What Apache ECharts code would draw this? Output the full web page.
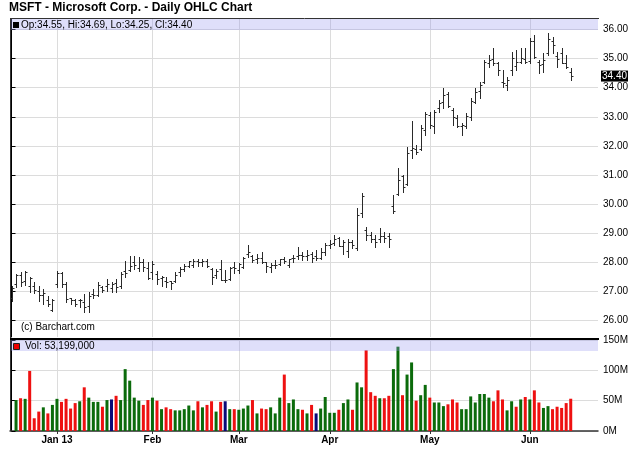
<!DOCTYPE html>
<html><head><meta charset="utf-8">
<script src="https://cdn.jsdelivr.net/npm/echarts@6/dist/echarts.min.js"></script>
<style>html,body{margin:0;padding:0;background:#fff}#c{width:640px;height:468px}</style>
</head><body><div id="c"></div>
<script>
const dates = [
'2012-12-17','2012-12-18','2012-12-19','2012-12-20','2012-12-21','2012-12-24','2012-12-26','2012-12-27','2012-12-28','2012-12-31',
'2013-01-02','2013-01-03','2013-01-04','2013-01-07','2013-01-08','2013-01-09','2013-01-10','2013-01-11','2013-01-14','2013-01-15',
'2013-01-16','2013-01-17','2013-01-18','2013-01-22','2013-01-23','2013-01-24','2013-01-25','2013-01-28','2013-01-29','2013-01-30',
'2013-01-31','2013-02-01','2013-02-04','2013-02-05','2013-02-06','2013-02-07','2013-02-08','2013-02-11','2013-02-12','2013-02-13',
'2013-02-14','2013-02-15','2013-02-19','2013-02-20','2013-02-21','2013-02-22','2013-02-25','2013-02-26','2013-02-27','2013-02-28',
'2013-03-01','2013-03-04','2013-03-05','2013-03-06','2013-03-07','2013-03-08','2013-03-11','2013-03-12','2013-03-13','2013-03-14',
'2013-03-15','2013-03-18','2013-03-19','2013-03-20','2013-03-21','2013-03-22','2013-03-25','2013-03-26','2013-03-27','2013-03-28',
'2013-04-01','2013-04-02','2013-04-03','2013-04-04','2013-04-05','2013-04-08','2013-04-09','2013-04-10','2013-04-11','2013-04-12',
'2013-04-15','2013-04-16','2013-04-17','2013-04-18','2013-04-19','2013-04-22','2013-04-23','2013-04-24','2013-04-25','2013-04-26',
'2013-04-29','2013-04-30','2013-05-01','2013-05-02','2013-05-03','2013-05-06','2013-05-07','2013-05-08','2013-05-09','2013-05-10',
'2013-05-13','2013-05-14','2013-05-15','2013-05-16','2013-05-17','2013-05-20','2013-05-21','2013-05-22','2013-05-23','2013-05-24',
'2013-05-28','2013-05-29','2013-05-30','2013-05-31','2013-06-03','2013-06-04','2013-06-05','2013-06-06','2013-06-07','2013-06-10',
'2013-06-11','2013-06-12','2013-06-13','2013-06-14'];

const opens = [
26.79,27.25,27.55,27.36,27.20,27.20,27.03,26.89,26.71,26.37,
27.25,27.63,27.27,26.77,26.72,26.72,26.65,26.49,26.90,26.88,
27.15,27.19,27.10,27.30,27.20,27.70,27.75,28.01,27.82,28.01,
27.79,27.67,27.60,27.46,27.35,27.35,27.35,27.65,27.78,27.88,
27.90,28.04,28.00,28.05,27.76,27.55,27.78,27.40,27.42,27.85,
27.72,27.85,28.29,28.20,28.10,28.14,28.00,27.85,27.90,27.95,
28.12,27.90,28.15,28.20,28.25,28.20,28.30,28.20,28.15,28.35,
28.60,28.65,28.85,28.55,28.40,28.70,28.50,29.70,29.10,28.95,
28.80,28.80,28.90,28.90,29.95,30.35,30.95,30.70,31.85,31.90,
31.90,32.55,33.05,32.70,33.30,33.50,33.80,33.25,32.95,32.70,
32.70,33.00,33.50,33.90,34.20,34.85,35.00,34.85,34.20,34.10,
34.60,34.75,34.90,35.00,34.92,35.62,34.90,34.80,35.20,35.60,
35.10,35.20,34.85,34.55];

const highs = [
27.20,27.60,27.66,27.69,27.48,27.31,27.20,27.08,26.85,26.74,
27.71,27.66,27.31,26.79,26.74,26.74,26.91,26.97,27.08,27.31,
27.20,27.43,27.31,27.43,27.66,28.06,28.23,28.23,28.17,28.11,
28.00,28.06,27.71,27.54,27.48,27.37,27.66,27.83,27.94,28.06,
28.11,28.11,28.10,28.13,27.79,27.76,28.08,27.74,27.85,28.02,
27.98,28.18,28.59,28.25,28.30,28.36,28.02,27.97,28.08,28.13,
28.19,28.13,28.25,28.53,28.36,28.42,28.36,28.42,28.48,28.65,
28.76,28.94,28.88,28.75,28.80,28.77,29.86,30.37,29.22,29.05,
28.94,29.17,29.05,29.00,30.31,31.23,31.00,31.97,32.84,32.03,
32.72,33.18,33.18,33.23,33.58,33.98,33.86,33.29,33.06,32.78,
33.12,33.64,33.98,34.21,34.95,35.12,35.35,34.89,34.61,34.36,
35.24,35.30,35.35,35.35,35.70,35.81,34.95,35.18,35.87,35.75,
35.24,35.35,35.12,34.69];

const lows = [
26.68,27.14,27.20,27.22,26.97,26.95,26.68,26.56,26.51,26.33,
27.14,27.14,26.62,26.56,26.51,26.45,26.28,26.28,26.79,26.85,
26.97,27.02,26.97,26.97,27.13,27.48,27.71,27.77,27.71,27.71,
27.44,27.43,27.25,27.20,27.14,27.08,27.33,27.54,27.71,27.83,
27.83,27.89,27.86,27.85,27.27,27.45,27.39,27.33,27.38,27.62,
27.62,27.80,28.19,28.02,27.97,27.98,27.68,27.68,27.79,27.91,
27.97,27.85,28.02,28.13,28.08,28.08,28.02,28.08,28.13,28.25,
28.48,28.59,28.55,28.30,28.19,28.48,28.42,29.57,28.77,28.71,
28.54,28.71,28.71,28.54,29.68,30.31,30.43,30.66,31.57,31.72,
31.86,32.37,32.60,32.43,33.18,33.29,33.35,32.72,32.66,32.37,
32.60,32.89,33.46,33.64,34.15,34.72,34.78,34.44,34.03,33.92,
34.44,34.61,34.84,34.84,34.84,35.01,34.49,34.55,35.12,35.18,
34.72,34.84,34.67,34.25];

const closes = [
27.10,27.56,27.31,27.68,27.45,27.06,26.86,26.96,26.55,26.71,
27.62,27.25,26.74,26.69,26.55,26.70,26.46,26.83,26.89,27.21,
27.04,27.25,27.25,27.15,27.61,27.63,27.88,27.91,28.01,27.85,
27.45,27.93,27.44,27.50,27.34,27.28,27.55,27.76,27.88,28.03,
28.04,28.01,28.05,27.87,27.49,27.70,27.40,27.40,27.81,27.80,
27.95,28.15,28.35,28.09,28.14,28.00,27.87,27.91,27.92,28.12,
28.03,28.10,28.16,28.25,28.20,28.25,28.16,28.16,28.37,28.61,
28.62,28.80,28.56,28.69,28.70,28.59,29.61,30.28,28.94,28.79,
28.69,28.90,28.83,28.79,29.76,30.83,30.60,31.76,31.94,31.79,
32.61,33.10,32.72,33.16,33.49,33.75,33.38,32.99,32.70,32.72,
33.03,33.53,33.85,34.10,34.87,34.95,34.85,34.60,34.15,34.27,
35.02,34.88,35.03,34.90,35.59,35.05,34.78,34.96,35.67,35.47,
35.00,34.86,34.72,34.40];

// volume in millions of shares (first day not shown on the chart)
const volumesM = [
null,51,54,53,99,21,32,39,29,43,
53,48,53,37,46,49,72,55,48,48,
40,51,52,58,51,102,83,55,50,43,
51,55,50,36,39,36,34,34,36,42,
34,49,39,43,49,32,48,49,36,36,
35,37,42,51,29,37,36,39,29,55,
93,46,52,36,35,29,43,29,37,56,
30,30,35,46,52,35,80,72,133,64,
58,54,54,58,102,139,59,93,113,50,
59,76,55,47,47,41,44,52,47,36,
36,57,47,61,61,55,49,67,52,34,
49,40,52,56,52,67,47,38,41,36,
40,38,46,53.199];

const monthTickLabels = ['Jan 13','Feb','Mar','Apr','May','Jun'];
const priceTicks = [26,27,28,29,30,31,32,33,34,35,36];
const volumeTicks = [0,50,100,150];

// ---------- derived ----------
const monthStarts = [];
for (let i = 1; i < dates.length; i++) {
  if (dates[i].slice(5,7) !== dates[i-1].slice(5,7)) monthStarts.push(i);
}
const ohlc = dates.map((d,i) => [i, opens[i], highs[i], lows[i], closes[i]]);
const UP = '#0b6b0b', DOWN = '#ee1111', SAME = '#0a0a78';
const volData = [];
volumesM.forEach((v,i) => {
  if (v == null) return;
  let c = SAME;
  if (i > 0) c = closes[i] > closes[i-1] ? UP : (closes[i] < closes[i-1] ? DOWN : SAME);
  volData.push({value:[i, v*1e6], itemStyle:{color:c}});
});
const last = dates.length - 1;
const fmt2 = v => v.toFixed(2);
const headerText = 'Op:' + fmt2(opens[last]) + ', Hi:' + fmt2(highs[last]) + ', Lo:' + fmt2(lows[last]) + ', Cl:' + fmt2(closes[last]);
const volText = 'Vol: ' + Math.round(volumesM[last]*1e6).toLocaleString('en-US');

const FONT = "'Liberation Sans', Arial, sans-serif";
const GRID_LINE = '#dcdcdc';
const xMin = -0.33, xMax = 129.0;

const chart = echarts.init(document.getElementById('c'), null, {renderer:'canvas'});
chart.setOption({
  animation: false,
  backgroundColor: '#fff',
  textStyle: {fontFamily: FONT},
  title: {
    text: 'MSFT - Microsoft Corp. - Daily OHLC Chart',
    left: 9, top: 2, padding: 0,
    textStyle: {fontSize: 12, fontWeight: 'bold', color: '#000', fontFamily: FONT}
  },
  grid: [
    {left: 10, right: 42, top: 19, height: 318},
    {left: 10, right: 42, top: 340, height: 91}
  ],
  xAxis: [
    {type:'value', gridIndex:0, min:xMin, max:xMax,
     axisLine:{show:false}, axisLabel:{show:false},
     axisTick:{show:false, customValues: monthStarts},
     splitLine:{show:true, lineStyle:{color:GRID_LINE, width:1}}},
    {type:'value', gridIndex:1, min:xMin, max:xMax,
     axisLine:{show:true, onZero:false, lineStyle:{color:'#333', width:1.5}},
     axisTick:{show:true, customValues: monthStarts, length:3, lineStyle:{color:'#333'}},
     axisLabel:{show:true, customValues: monthStarts, margin:4,
       formatter: v => monthTickLabels[monthStarts.indexOf(v)] || '',
       fontSize:10, fontWeight:'bold', color:'#000', fontFamily:FONT},
     splitLine:{show:true, lineStyle:{color:GRID_LINE, width:1}}}
  ],
  yAxis: [
    {type:'value', gridIndex:0, position:'right', min:25.433, max:36.361, scale:true,
     axisLine:{show:true, lineStyle:{color:'#000', width:1}},
     axisTick:{show:true, customValues: priceTicks, length:4, lineStyle:{color:'#000'}},
     axisLabel:{show:true, customValues: priceTicks, margin:5, formatter: v => v.toFixed(2),
       fontSize:10, color:'#000', fontFamily:FONT},
     splitLine:{show:true, lineStyle:{color:GRID_LINE, width:1}}},
    {type:'value', gridIndex:1, position:'right', min:0, max:150e6, interval:50e6,
     axisLine:{show:true, lineStyle:{color:'#000', width:1}},
     axisTick:{show:true, length:4, lineStyle:{color:'#000'}},
     axisLabel:{show:true, margin:5, formatter: v => (v/1e6) + 'M',
       fontSize:10, color:'#000', fontFamily:FONT},
     splitLine:{show:true, lineStyle:{color:GRID_LINE, width:1}}}
  ],
  series: [
    {
      type:'custom', name:'MSFT', xAxisIndex:0, yAxisIndex:0,
      data: ohlc, encode:{x:0, y:[1,2,3,4]}, clip:true,
      renderItem: function(params, api) {
        const i = api.value(0);
        const pH = api.coord([i, api.value(2)]);
        const pL = api.coord([i, api.value(3)]);
        const pO = api.coord([i, api.value(1)]);
        const pC = api.coord([i, api.value(4)]);
        const x = Math.round(pH[0]) + 0.5;
        const st = {stroke:'#2a2a2a', lineWidth:1};
        const yo = Math.round(pO[1]) + 0.5, yc = Math.round(pC[1]) + 0.5;
        return {type:'group', children:[
          {type:'line', shape:{x1:x, y1:Math.round(pH[1]), x2:x, y2:Math.round(pL[1]) + 1}, style:st},
          {type:'line', shape:{x1:x - 2, y1:yo, x2:x, y2:yo}, style:st},
          {type:'line', shape:{x1:x, y1:yc, x2:x + 2, y2:yc}, style:st}
        ]};
      }
    },
    {
      type:'line', xAxisIndex:0, yAxisIndex:0, data:[[last, closes[last]]],
      showSymbol:false, lineStyle:{opacity:0}, silent:true, z:20,
      markLine:{
        silent:true, symbol:['none','none'], z:20,
        lineStyle:{width:0, color:'rgba(0,0,0,0)', opacity:1},
        data:[{yAxis: closes[last]}],
        label:{show:true, position:'end', distance:3, formatter: fmt2(closes[last]),
          backgroundColor:'#000', color:'#fff', opacity:1, padding:[1,1,0,1], fontSize:10, fontFamily:FONT}
      }
    },
    {
      type:'bar', name:'Volume', xAxisIndex:1, yAxisIndex:1,
      data: volData, barWidth: 3
    }
  ],
  graphic: [
    {type:'rect', z:100, silent:true, shape:{x:10, y:19, width:588, height:11}, style:{fill:'rgba(150,150,240,0.3)'}},
    {type:'rect', z:100, silent:true, shape:{x:10, y:340, width:588, height:11}, style:{fill:'rgba(150,150,240,0.3)'}},
    {type:'rect', z:101, silent:true, shape:{x:13, y:22, width:6, height:6}, style:{fill:'#000'}},
    {type:'text', z:101, silent:true, x:21, y:25, style:{text: headerText, font:'10px ' + FONT, fill:'#000', verticalAlign:'middle'}},
    {type:'rect', z:101, silent:true, shape:{x:13.5, y:343.5, width:6, height:6}, style:{fill:'#e00', stroke:'#222', lineWidth:1}},
    {type:'text', z:101, silent:true, x:25, y:346.5, style:{text: volText, font:'10px ' + FONT, fill:'#000', verticalAlign:'middle'}},
    {type:'text', z:101, silent:true, x:21, y:327, style:{text:'(c) Barchart.com', font:'10px ' + FONT, fill:'#000', verticalAlign:'middle'}},
    {type:'line', z:102, silent:true, shape:{x1:10, y1:18.5, x2:599, y2:18.5}, style:{stroke:'#333', lineWidth:1}},
    {type:'line', z:102, silent:true, shape:{x1:10.5, y1:18, x2:10.5, y2:431}, style:{stroke:'#333', lineWidth:1}},
    {type:'line', z:102, silent:true, shape:{x1:10, y1:339, x2:599, y2:339}, style:{stroke:'#000', lineWidth:2}}
  ]
});
</script>
</body></html>
